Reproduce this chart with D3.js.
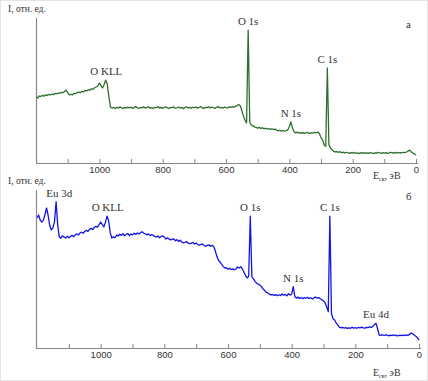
<!DOCTYPE html>
<html>
<head>
<meta charset="utf-8">
<script src="https://cdn.jsdelivr.net/npm/d3@7"></script>
<style>
  body { margin: 0; background: #fff; }
  svg { display: block; }
  .lbl { font-family: "Liberation Serif", "Times New Roman", Tinos, serif; font-size: 11px; fill: #333; }
  .tick text { font-family: "Liberation Sans", Arial, sans-serif; font-size: 9.5px; fill: #333; }
</style>
</head>
<body>
<svg id="chart" width="428" height="381"></svg>
<script>
// binding energy grid, eV (1200 -> 0, step 5)
const energies = d3.range(1200, -1, -5);

// panel а, relative intensity
const intensityA = [
  45.5, 44.8, 46.2, 45.9, 46.6, 46.1, 47.0, 46.5, 47.3, 46.9,
  47.6, 47.1, 48.0, 47.7, 48.3, 48.0, 48.8, 48.4, 49.3, 50.3,
  48.5, 46.9, 47.4, 47.0, 48.1, 47.8, 48.6, 48.9, 48.5, 49.4,
  49.0, 50.1, 49.7, 50.6, 50.2, 51.2, 50.8, 51.9, 52.4, 53.1,
  55.2, 53.5, 51.7, 54.0, 57.2, 54.5, 46.0, 38.6, 37.9, 38.3,
  37.6, 38.4, 37.9, 38.7, 38.1, 37.5, 38.3, 37.8, 38.6, 38.0,
  38.5, 37.7, 38.2, 38.9, 38.1, 37.6, 38.4, 38.0, 38.7, 37.9,
  38.3, 38.8, 37.8, 38.2, 37.6, 38.5, 38.1, 38.9, 37.9, 38.4,
  37.7, 38.3, 38.8, 38.0, 37.6, 38.4, 38.2, 38.7, 37.8, 38.1,
  38.6, 37.9, 38.3, 37.5, 38.2, 38.8, 38.0, 38.4, 37.7, 38.5,
  38.1, 38.7, 37.8, 38.3, 38.9, 38.0, 37.6, 38.4, 38.2, 38.8,
  37.9, 38.5, 38.1, 37.7, 38.4, 38.9, 38.0, 38.3, 37.8, 38.6,
  38.2, 38.0, 38.7, 38.3, 38.9, 38.4, 39.1, 39.6, 40.3, 39.5,
  36.0, 32.5, 29.5, 27.6, 91.7, 28.0, 26.2, 25.6, 24.9, 24.5,
  24.1, 24.6, 23.9, 24.3, 23.6, 24.0, 23.4, 23.8, 23.2, 23.6,
  23.0, 23.4, 22.7, 22.2, 22.6, 22.0, 22.4, 21.9, 22.3, 22.8,
  25.0, 28.3, 24.0, 21.5, 20.8, 21.3, 20.6, 21.0, 20.4, 20.9,
  20.5, 21.1, 20.7, 20.3, 20.9, 20.6, 21.2, 20.8, 21.3, 20.4,
  17.5, 15.9, 12.4, 11.5, 65.5, 12.5, 10.3, 9.2, 8.0, 7.6,
  7.9, 7.3, 7.8, 7.1, 7.5, 6.9, 7.4, 7.0, 6.6, 7.2,
  6.8, 7.3, 6.7, 7.0, 6.5, 7.1, 6.8, 7.2, 6.6, 7.0,
  6.7, 7.2, 6.9, 6.5, 7.0, 6.8, 7.3, 6.9, 6.6, 7.1,
  6.8, 7.2, 6.7, 7.0, 7.4, 6.9, 7.1, 6.8, 7.3, 7.0,
  7.2, 6.9, 7.4, 7.1, 7.6, 8.2, 8.9, 7.8, 6.8, 6.2,
  5.5
];

// panel б, relative intensity
const intensityB = [
  82.3, 84.2, 81.0, 79.7, 80.8, 84.5, 88.6, 84.0, 77.5, 74.7,
  76.0, 80.0, 92.6, 78.0, 70.3, 69.5, 71.0, 70.2, 69.6, 70.8,
  69.8, 70.5, 71.3, 70.4, 71.6, 72.2, 71.5, 72.8, 73.3, 72.6,
  73.9, 74.4, 73.8, 75.1, 75.7, 75.0, 76.4, 77.0, 76.5, 78.1,
  79.7, 78.3, 76.6, 79.5, 83.5, 80.5, 73.0, 69.6, 70.4, 69.8,
  71.5, 70.8, 72.0, 71.3, 72.4, 71.0, 71.8, 72.5, 71.2, 72.1,
  71.6, 72.6, 71.9, 72.8, 72.2, 73.0, 73.6, 72.7, 72.3, 71.6,
  72.2, 71.1, 71.8, 71.3, 70.6, 70.2, 70.9, 69.8, 70.6, 70.9,
  70.2, 69.0, 69.8, 68.9, 68.4, 68.9, 69.0, 67.9, 68.6, 67.5,
  68.2, 67.0, 66.6, 66.9, 67.4, 66.3, 66.0, 66.4, 66.8, 65.8,
  66.5, 65.4, 65.1, 65.6, 65.8, 64.8, 64.5, 65.0, 65.3, 64.3,
  65.0, 64.2, 61.5, 58.0, 55.5, 54.4, 53.0, 51.5, 50.6, 50.9,
  49.8, 50.5, 49.6, 50.2, 49.4, 50.0, 51.3, 50.6, 51.5, 50.1,
  48.0, 46.0, 44.3, 45.5, 83.5, 45.0, 43.8, 42.2, 41.0, 40.4,
  40.0, 38.8, 37.4, 36.5, 35.2, 34.8, 34.1, 33.6, 33.9, 33.3,
  33.8, 33.1, 33.7, 33.2, 34.2, 33.4, 33.9, 33.0, 34.4, 33.5,
  34.0, 38.8, 32.5, 31.6, 32.2, 31.4, 32.0, 31.2, 31.9, 31.5,
  32.1, 31.3, 31.8, 31.0, 31.7, 32.3, 31.5, 31.9, 31.2, 30.6,
  29.8, 28.5, 26.0, 23.0, 83.5, 22.0, 18.5, 17.7, 15.8, 14.5,
  13.2, 12.7, 13.0, 12.6, 12.9, 12.4, 12.8, 12.5, 13.1, 12.6,
  12.9, 12.5, 13.0, 12.7, 13.2, 12.8, 12.6, 13.1, 12.9, 13.4,
  13.0, 13.8, 14.8, 15.6, 12.0, 8.2, 8.0, 8.4, 7.9, 8.3,
  8.1, 7.7, 8.2, 7.8, 8.3, 7.9, 8.0, 7.6, 8.2, 7.8,
  8.1, 7.8, 8.3, 8.0, 8.6, 9.5, 9.0, 8.2, 7.4, 6.5,
  5.0
];

const tickValues = [1100, 1000, 900, 800, 700, 600, 500, 400, 300, 200, 100, 0];
const tickLabels = [1000, 800, 600, 400, 200, 0];

const peaksA = [
  { name: "O KLL", e: 978, v: 57.2 },
  { name: "O 1s", e: 530, v: 91.7 },
  { name: "N 1s", e: 395, v: 28.3 },
  { name: "C 1s", e: 280, v: 65.5 }
];
const peaksB = [
  { name: "Eu 3d", e: 1130, v: 92.6 },
  { name: "O KLL", e: 978, v: 83.5 },
  { name: "O 1s", e: 530, v: 83.5 },
  { name: "N 1s", e: 395, v: 38.8 },
  { name: "C 1s", e: 280, v: 83.5 },
  { name: "Eu 4d", e: 135, v: 15.6 }
];

const svg = d3.select("#chart");

svg.append("rect")
  .attr("x", 0.5).attr("y", 0.5)
  .attr("width", 427).attr("height", 380)
  .attr("fill", "none").attr("stroke", "#e4e4e4");

function panel(cfg) {
  const x = d3.scaleLinear().domain([1200, 0]).range(cfg.xr);
  const y = d3.scaleLinear().domain([0, 100]).range([cfg.bottom, cfg.top]);
  const g = svg.append("g");

  // y axis line (no ticks)
  g.append("line")
    .attr("x1", 36.5).attr("x2", 36.5)
    .attr("y1", cfg.top).attr("y2", cfg.bottom)
    .attr("stroke", "#888").attr("stroke-width", 1.2);

  const ax = g.append("g")
    .attr("transform", `translate(0,${cfg.bottom})`)
    .call(d3.axisBottom(x)
      .tickValues(tickValues)
      .tickSize(-4)
      .tickPadding(3)
      .tickFormat((d) => (tickLabels.includes(d) ? d : "")));
  ax.select(".domain").attr("stroke", "#888").attr("stroke-width", 1.2)
    .attr("d", `M36,0.5H${cfg.xr[1] + 2}`);
  ax.selectAll(".tick line").attr("stroke", "#888");

  const line = d3.line()
    .x((d, i) => x(energies[i]))
    .y((d) => y(d));

  g.append("path")
    .datum(cfg.values)
    .attr("fill", "none")
    .attr("stroke", cfg.color)
    .attr("stroke-width", 1.3)
    .attr("stroke-linejoin", "round")
    .attr("d", line);

  g.selectAll("text.peak")
    .data(cfg.peaks)
    .join("text")
    .attr("class", "lbl peak")
    .attr("text-anchor", "middle")
    .attr("x", (d) => x(d.e))
    .attr("y", (d) => y(d.v) - 5)
    .text((d) => d.name);

  g.append("text").attr("class", "lbl")
    .attr("x", 8).attr("y", cfg.top - 6)
    .style("font-size", "9.5px")
    .text("I, отн. ед.");

  g.append("text").attr("class", "lbl")
    .attr("x", 406).attr("y", cfg.top + 10)
    .text(cfg.letter);

  const xl = g.append("text").attr("class", "lbl")
    .attr("x", 373).attr("y", cfg.xlabelY)
    .style("font-size", "10px");
  xl.append("tspan").text("E");
  xl.append("tspan").attr("dy", 2).style("font-size", "6px").text("св");
  xl.append("tspan").attr("dy", -2).text(", эВ");
}

panel({ xr: [36, 416], top: 18, bottom: 163, values: intensityA, color: "#2f6e2f",
  peaks: peaksA, letter: "а", xlabelY: 179 });
panel({ xr: [37, 419], top: 190, bottom: 348, values: intensityB, color: "#1414e6",
  peaks: peaksB, letter: "б", xlabelY: 376 });
</script>
</body>
</html>
